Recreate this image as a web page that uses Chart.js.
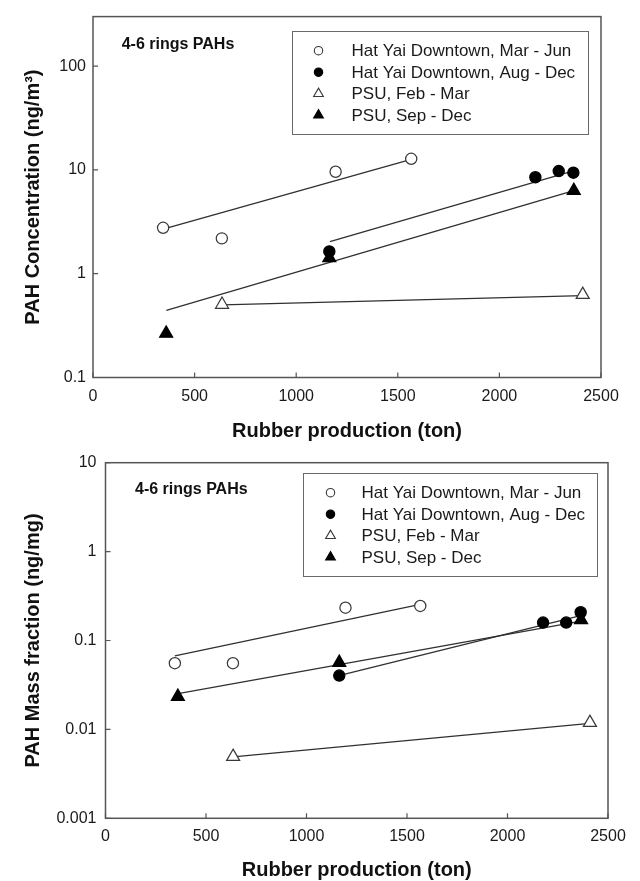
<!DOCTYPE html>
<html>
<head>
<meta charset="utf-8">
<script src="https://cdn.jsdelivr.net/npm/chart.js@4/dist/chart.umd.min.js"></script>
<style>
html,body{margin:0;padding:0;background:#fff;overflow:hidden;}
#wrap{position:relative;width:640px;height:881px;overflow:hidden;background:#fff;}
canvas{position:absolute;left:0;}
#c1{top:0px;}
#c2{top:421px;}
</style>
</head>
<body>
<div id="wrap">
<canvas id="c1" width="640" height="460"></canvas>
<canvas id="c2" width="640" height="460"></canvas>
</div>
<script>
// ---------------- data ----------------
const seriesLabels = ['Hat Yai Downtown, Mar - Jun', 'Hat Yai Downtown, Aug - Dec', 'PSU, Feb - Mar', 'PSU, Sep - Dec'];
const noteText = '4-6 rings PAHs';
const xTitle = 'Rubber production (ton)';
const concTitle = 'PAH Concentration (ng/m\u00B3)';
const massTitle = 'PAH Mass fraction (ng/mg)';

const xTickValues = [0, 500, 1000, 1500, 2000, 2500];
const xTickLabels = ['0', '500', '1000', '1500', '2000', '2500'];
const concTickValues = [0.1, 1, 10, 100];
const concTickLabels = ['0.1', '1', '10', '100'];
const massTickValues = [0.001, 0.01, 0.1, 1, 10];
const massTickLabels = ['0.001', '0.01', '0.1', '1', '10'];

// rubber production (x) of each sample
const hyMarJunX = [345, 634, 1194, 1566];
const hyAugDecX = [1163, 2177, 2292, 2364];
const psuFebMarX = [635, 2410];
const psuSepDecX = [360, 1163, 2366];

// PAH concentration (ng/m3)
const hyMarJunConc = [2.77, 2.19, 9.6, 12.8];
const hyAugDecConc = [1.64, 8.5, 9.75, 9.4];
const psuFebMarConc = [0.505, 0.628];
const psuSepDecConc = [0.266, 1.42, 6.31];

// PAH mass fraction (ng/mg)
const hyMarJunMass = [0.0556, 0.0556, 0.234, 0.245];
const hyAugDecMass = [0.0403, 0.159, 0.159, 0.208];
const psuFebMarMass = [0.00494, 0.0119];
const psuSepDecMass = [0.0234, 0.0565, 0.171];

// fitted lines: end points
const hyMarJunFitX = [345, 1566];
const hyAugDecFitX = [1166, 2364];
const psuFebMarFitX = [635, 2410];
const psuSepDecFitX = [361, 2366];
const hyMarJunFitConc = [2.69, 12.6];
const hyAugDecFitConc = [2.04, 9.8];
const psuFebMarFitConc = [0.50, 0.615];
const psuSepDecFitConc = [0.443, 6.3];
const hyMarJunFitMass = [0.067, 0.255];
const hyAugDecFitMass = [0.0405, 0.19];
const psuFebMarFitMass = [0.0049, 0.0117];
const psuSepDecFitMass = [0.0252, 0.165];

// ---------------- helpers ----------------
const FONT = "'Liberation Sans', Arial, Helvetica, sans-serif";
const pts = (xs, ys) => xs.map((x, i) => ({x: x, y: ys[i]}));

const styles = [
  {pointStyle: 'circle', bg: '#ffffff', border: '#3a3a3a', r: 5.6},
  {pointStyle: 'circle', bg: '#000000', border: '#000000', r: 5.6},
  {pointStyle: 'triangle', bg: '#ffffff', border: '#3a3a3a', r: 7.5},
  {pointStyle: 'triangle', bg: '#000000', border: '#000000', r: 7.5}
];

function pointSet(i, xs, ys) {
  const s = styles[i];
  return {
    label: seriesLabels[i], showInLegend: true, data: pts(xs, ys), showLine: false,
    pointStyle: s.pointStyle, pointRadius: s.r, pointBackgroundColor: s.bg,
    pointBorderColor: s.border, pointBorderWidth: 1.25, order: 0
  };
}
function lineSet(i, xs, ys) {
  return {
    label: seriesLabels[i] + ' fit', showInLegend: false, data: pts(xs, ys), showLine: true,
    pointRadius: 0, borderColor: '#303030', borderWidth: 1.3, fill: false, order: 1
  };
}

function drawMarker(ctx, style, x, y, r, bg, border) {
  ctx.beginPath();
  if (style === 'circle') {
    ctx.arc(x, y, r, 0, Math.PI * 2);
  } else {
    ctx.moveTo(x, y - r);
    ctx.lineTo(x + r * Math.sin(2 * Math.PI / 3), y - r * Math.cos(2 * Math.PI / 3));
    ctx.lineTo(x + r * Math.sin(4 * Math.PI / 3), y - r * Math.cos(4 * Math.PI / 3));
    ctx.closePath();
  }
  ctx.fillStyle = bg; ctx.fill();
  ctx.strokeStyle = border; ctx.lineWidth = 1.1; ctx.stroke();
}

const framePlugin = {
  id: 'frameTicks',
  afterDraw(chart, args, o) {
    const {ctx, chartArea: a} = chart;
    const xs = chart.scales.x, ys = chart.scales.y;
    ctx.save();
    ctx.strokeStyle = '#555555';
    ctx.lineWidth = 1.5;
    ctx.strokeRect(a.left, a.top, a.right - a.left, a.bottom - a.top);
    ctx.lineWidth = 1.2;
    ctx.beginPath();
    xs.ticks.forEach(t => {
      const px = xs.getPixelForValue(t.value);
      ctx.moveTo(px, a.bottom); ctx.lineTo(px, a.bottom - 5);
    });
    ys.ticks.forEach(t => {
      const py = ys.getPixelForValue(t.value);
      ctx.moveTo(a.left, py); ctx.lineTo(a.left + 5, py);
    });
    ctx.stroke();
    ctx.restore();
  }
};

const boxLegendPlugin = {
  id: 'boxLegend',
  afterDraw(chart, args, o) {
    const {ctx, chartArea: a} = chart;
    const x0 = Math.round(a.left + o.dx), y0 = Math.round(a.top + o.dy);
    ctx.save();
    ctx.fillStyle = '#ffffff';
    ctx.fillRect(x0, y0, o.w, o.h);
    ctx.strokeStyle = '#6a6a6a'; ctx.lineWidth = 1;
    ctx.strokeRect(x0 + 0.5, y0 + 0.5, o.w, o.h);
    const items = chart.data.datasets.filter(d => d.showInLegend);
    items.forEach((d, i) => {
      const cy = y0 + o.firstRow + i * o.rowGap;
      const r = d.pointStyle === 'circle' ? 4.2 : 5.6;
      drawMarker(ctx, d.pointStyle, x0 + o.symX, cy, r, d.pointBackgroundColor, d.pointBorderColor);
      ctx.fillStyle = '#1a1a1a';
      ctx.font = '17px ' + FONT;
      ctx.textAlign = 'left'; ctx.textBaseline = 'middle';
      ctx.fillText(d.label, x0 + o.textX, cy + 1);
    });
    ctx.fillStyle = '#111111';
    ctx.font = 'bold 16px ' + FONT;
    ctx.textAlign = 'left'; ctx.textBaseline = 'middle';
    ctx.fillText(o.note, a.left + o.noteDx, a.top + o.noteDy);
    ctx.restore();
  }
};

function makeChart(id, cfg) {
  const tickFont = {family: FONT, size: 16};
  const titleFont = {family: FONT, size: 20, weight: 'bold', lineHeight: 1};
  return new Chart(document.getElementById(id), {
    type: 'scatter',
    data: {datasets: cfg.datasets},
    plugins: [framePlugin, boxLegendPlugin],
    options: {
      responsive: false,
      animation: false,
      devicePixelRatio: 1,
      layout: {padding: cfg.padding},
      plugins: {
        legend: {display: false},
        tooltip: {enabled: false},
        boxLegend: cfg.legend
      },
      scales: {
        x: {
          type: 'linear', min: 0, max: 2500,
          afterBuildTicks: s => { s.ticks = xTickValues.map(v => ({value: v})); },
          afterFit: s => { s.height = cfg.xHeight; },
          grid: {display: false, drawTicks: false},
          border: {display: false},
          ticks: {
            font: tickFont, color: '#1a1a1a', padding: 9, maxRotation: 0,
            callback: v => xTickLabels[xTickValues.indexOf(v)]
          },
          title: {display: true, text: xTitle, font: titleFont, color: '#111', padding: {top: 0, bottom: 0}}
        },
        y: {
          type: 'logarithmic', min: cfg.yMin, max: cfg.yMax,
          afterBuildTicks: s => { s.ticks = cfg.yTickValues.map(v => ({value: v, major: true})); },
          afterFit: s => { s.width = cfg.yWidth; },
          grid: {display: false, drawTicks: false},
          border: {display: false},
          ticks: {
            font: tickFont, color: '#1a1a1a', padding: cfg.yPad, autoSkip: false,
            callback: v => {
              const i = cfg.yTickValues.findIndex(t => Math.abs(t - v) / t < 1e-6);
              return i >= 0 ? cfg.yTickLabels[i] : '';
            }
          },
          title: {display: true, text: cfg.yTitle, font: titleFont, color: '#111', padding: {top: 23, bottom: 0}}
        }
      }
    }
  });
}

// top chart: concentration
makeChart('c1', {
  datasets: [
    pointSet(0, hyMarJunX, hyMarJunConc),
    pointSet(1, hyAugDecX, hyAugDecConc),
    pointSet(2, psuFebMarX, psuFebMarConc),
    pointSet(3, psuSepDecX, psuSepDecConc),
    lineSet(0, hyMarJunFitX, hyMarJunFitConc),
    lineSet(1, hyAugDecFitX, hyAugDecFitConc),
    lineSet(2, psuFebMarFitX, psuFebMarFitConc),
    lineSet(3, psuSepDecFitX, psuSepDecFitConc)
  ],
  padding: {left: 0, right: 39, top: 10, bottom: 18.3},
  xHeight: 64.2,
  yWidth: 93,
  yPad: 7,
  yMin: 0.1, yMax: 300,
  yTickValues: concTickValues, yTickLabels: concTickLabels,
  yTitle: concTitle,
  legend: {dx: 198.7, dy: 14, w: 296, h: 103, firstRow: 19.7, rowGap: 21.5, symX: 26.5, textX: 59.5,
           note: noteText, noteDx: 28.7, noteDy: 28.3}
});

// bottom chart: mass fraction
makeChart('c2', {
  datasets: [
    pointSet(0, hyMarJunX, hyMarJunMass),
    pointSet(1, hyAugDecX, hyAugDecMass),
    pointSet(2, psuFebMarX, psuFebMarMass),
    pointSet(3, psuSepDecX, psuSepDecMass),
    lineSet(0, hyMarJunFitX, hyMarJunFitMass),
    lineSet(1, hyAugDecFitX, hyAugDecFitMass),
    lineSet(2, psuFebMarFitX, psuFebMarFitMass),
    lineSet(3, psuSepDecFitX, psuSepDecFitMass)
  ],
  padding: {left: 0, right: 32, top: 41.7, bottom: 1},
  xHeight: 61.7,
  yWidth: 105.5,
  yPad: 9,
  yMin: 0.001, yMax: 10,
  yTickValues: massTickValues, yTickLabels: massTickLabels,
  yTitle: massTitle,
  legend: {dx: 197, dy: 10.6, w: 294, h: 103, firstRow: 19.7, rowGap: 21.5, symX: 27.5, textX: 58.5,
           note: noteText, noteDx: 29.5, noteDy: 26.6}
});
</script>
</body>
</html>
